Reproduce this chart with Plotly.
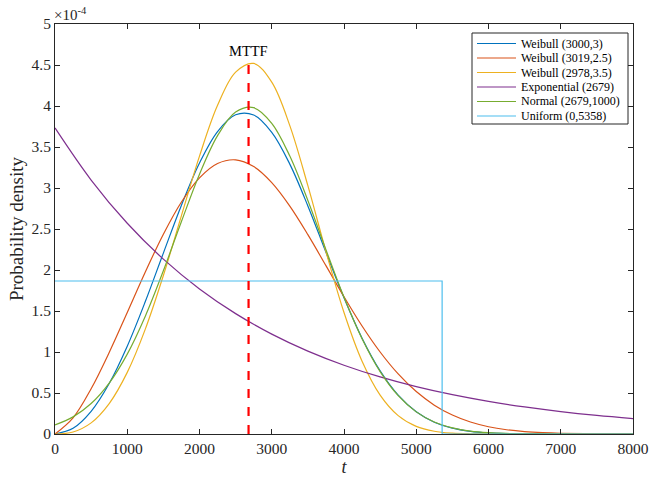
import plotly.graph_objects as go

# values in units of 1e-4
t_w = [0, 250, 500, 750, 1000, 1250, 1500, 1750, 2000, 2250, 2500, 2750, 3000, 3250, 3500,
       3750, 4000, 4250, 4500, 4750, 5000, 5250, 5500, 5750, 6000, 6250, 6500, 6750, 7000, 7500, 8000]
weib_3000_3 = [0, 0.0694, 0.2765, 0.6153, 1.0707, 1.6150, 2.2062, 2.7901, 3.3048, 3.6889, 3.8933,
               3.8896, 3.6788, 3.2913, 2.7813, 2.2161, 1.6612, 1.1689, 0.7699, 0.4735, 0.2711,
               0.1441, 0.0709, 0.0322, 0.0134, 0.0051, 0.0018, 0.0006, 0.0001, 0, 0]
weib_3019_25 = [0, 0.1970, 0.5520, 0.9943, 1.4821, 1.9758, 2.4370, 2.8296, 3.1240, 3.2985, 3.3434,
                3.2612, 3.0653, 2.7790, 2.4314, 2.0532, 1.6742, 1.3173, 1.0000, 0.7326, 0.5173,
                0.3520, 0.2308, 0.1457, 0.0886, 0.0518, 0.0291, 0.0157, 0.0081, 0.0019, 0.0004]
weib_2978_35 = [0, 0.0240, 0.1355, 0.3711, 0.7513, 1.2788, 1.9328, 2.6630, 3.3891, 4.0085, 4.4134,
                4.5188, 4.2904, 3.7612, 3.0280, 2.2251, 1.4818, 0.8879, 0.4747, 0.2245, 0.0932,
                0.0336, 0.0105, 0.0028, 0.0006, 0.0001, 0, 0, 0, 0, 0]
normal_2679 = [0.1103, 0.2088, 0.3714, 0.6208, 0.9745, 1.4371, 1.9910, 2.5912, 3.1680, 3.6387, 3.9260,
               3.9794, 3.7891, 3.3893, 2.8480, 2.2481, 1.6671, 1.1614, 0.7600, 0.4673, 0.2699,
               0.1464, 0.0746, 0.0357, 0.0161, 0.0068, 0.0027, 0.0010, 0.0004, 0.0000, 0]

t_e = [0, 500, 1000, 1500, 2000, 2500, 3000, 3500, 4000, 4500, 5000, 5500, 6000, 6500, 7000, 7500, 8000]
expo_2679 = [3.7327, 3.0972, 2.5698, 2.1323, 1.7693, 1.4680, 1.2181, 1.0107, 0.8386, 0.6958,
             0.5774, 0.4791, 0.3975, 0.3298, 0.2737, 0.2271, 0.1884]

t_u = [0, 5358, 5358, 8000]
unif = [1.866, 1.866, 0, 0]

mttf_x = [2679, 2679]
mttf_y = [0, 4.53]

names = ["Weibull (3000,3)", "Weibull (3019,2.5)", "Weibull (2978,3.5)",
         "Exponential (2679)", "Normal (2679,1000)", "Uniform (0,5358)"]
colors = ["#0072BD", "#D95319", "#EDB120", "#7E2F8E", "#77AC30", "#4DBEEE"]

x_ticks = [0, 1000, 2000, 3000, 4000, 5000, 6000, 7000, 8000]
y_ticks = [0, 0.5, 1, 1.5, 2, 2.5, 3, 3.5, 4, 4.5, 5]
y_tick_text = ["0", "0.5", "1", "1.5", "2", "2.5", "3", "3.5", "4", "4.5", "5"]

FONT = "Liberation Serif"
W, H = 649, 483
# plot area in window pixels: x 55..633, y 24..434
ML, MT = 55, 24
MR, MB = W - 633, H - 434
PW, PH = 633 - 55, 434 - 24


def px_x(p):
    return (p - 55) / PW


def px_y(p):
    return (434 - p) / PH


fig = go.Figure()
series = [(t_w, weib_3000_3), (t_w, weib_3019_25), (t_w, weib_2978_35),
          (t_e, expo_2679), (t_w, normal_2679), (t_u, unif)]
for (xs, ys), n, c in zip(series, names, colors):
    shape = "linear" if n.startswith("Uniform") else "spline"
    fig.add_trace(go.Scatter(x=xs, y=ys, mode="lines", name=n, showlegend=False,
                             line=dict(color=c, width=1.2, shape=shape)))

fig.add_trace(go.Scatter(x=mttf_x, y=mttf_y, mode="lines", showlegend=False,
                         line=dict(color="#FF0000", width=2.2, dash="dash")))

fig.add_annotation(x=mttf_x[0], y=4.67, text="MTTF", showarrow=False,
                   font=dict(family=FONT, size=14.5, color="#000"), xanchor="center", yanchor="middle")
fig.add_annotation(x=0, y=1, xref="paper", yref="paper", text="×10<sup>-4</sup>",
                   showarrow=False, xanchor="left", yanchor="bottom", xshift=-3, yshift=-1,
                   font=dict(family=FONT, size=15, color="#262626"))

# legend box (MATLAB style)
LX0, LX1, LY0, LY1 = 472, 628, 33, 124
fig.add_shape(type="rect", xref="paper", yref="paper",
              x0=px_x(LX0), x1=px_x(LX1), y0=px_y(LY1), y1=px_y(LY0),
              line=dict(color="#262626", width=1), fillcolor="white", layer="above")
for i, (n, c) in enumerate(zip(names, colors)):
    yc = 43.5 + i * 14.5
    fig.add_shape(type="line", xref="paper", yref="paper",
                  x0=px_x(477), x1=px_x(516), y0=px_y(yc), y1=px_y(yc),
                  line=dict(color=c, width=1.2), layer="above")
    fig.add_annotation(x=px_x(519), y=px_y(yc), xref="paper", yref="paper", text=n,
                       showarrow=False, xanchor="left", yanchor="middle",
                       font=dict(family=FONT, size=12, color="#000"))

axis_common = dict(showline=True, linecolor="#262626", linewidth=1, mirror="allticks",
                   ticks="inside", ticklen=5, tickcolor="#262626", showgrid=False, zeroline=False,
                   automargin=False,
                   tickfont=dict(family=FONT, size=15.5, color="#262626"))

fig.update_xaxes(range=[0, 8000], tickvals=x_ticks, ticktext=[str(v) for v in x_ticks],
                 title=dict(text="<i>t</i>", font=dict(family=FONT, size=18, color="#262626"), standoff=4),
                 **axis_common)
fig.update_yaxes(range=[0, 5], tickvals=y_ticks, ticktext=y_tick_text,
                 title=dict(text="Probability density", font=dict(family=FONT, size=19, color="#262626"), standoff=2),
                 **axis_common)

fig.update_layout(
    width=W, height=H,
    margin=dict(l=ML, r=MR, t=MT, b=MB),
    paper_bgcolor="white", plot_bgcolor="white",
    showlegend=False,
)

fig.write_html("out.html", config={"displayModeBar": False},
               post_script="document.body.style.margin='0';document.body.style.overflow='hidden';")
